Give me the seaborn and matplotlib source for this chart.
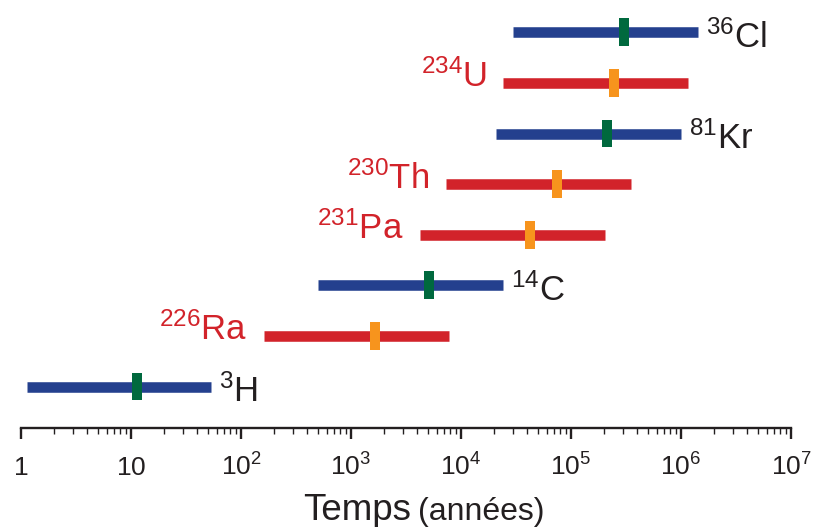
import numpy as np
import pandas as pd
import matplotlib
matplotlib.use("Agg")
import matplotlib.pyplot as plt
import seaborn as sns
from matplotlib.ticker import FixedLocator, LogLocator, NullFormatter

# isotopes, top to bottom
masses = ["36", "234", "81", "230", "231", "14", "226", "3"]
symbols = ["Cl", "U", "Kr", "Th", "Pa", "C", "Ra", "H"]
family = ["gas", "series", "gas", "series", "series", "gas", "series", "gas"]
# dating range (years) and half-life marker
t_min = [2.99e4, 2.43e4, 2.08e4, 7.3e3, 4.24e3, 5.05e2, 1.63e2, 1.13]
t_max = [1.42e6, 1.15e6, 9.9e5, 3.5e5, 2.04e5, 2.39e4, 7.8e3, 53.4]
t_half = [3.03e5, 2.46e5, 2.12e5, 7.46e4, 4.24e4, 5.12e3, 1.65e3, 11.4]

tick_vals = [1, 10, 1e2, 1e3, 1e4, 1e5, 1e6, 1e7]
tick_labels = ["$1$", "$10$", "$10^{2}$", "$10^{3}$", "$10^{4}$",
               "$10^{5}$", "$10^{6}$", "$10^{7}$"]

BLUE = "#24408e"
RED = "#d2232a"
GREEN = "#00693e"
ORANGE = "#f7941d"
INK = "#231f20"

sns.set_style("white")
plt.rcParams["font.family"] = ["Liberation Sans", "DejaVu Sans"]
plt.rcParams["mathtext.default"] = "regular"
plt.rcParams["lines.solid_capstyle"] = "butt"

ypos = np.arange(len(symbols))
labels = [m + s for m, s in zip(masses, symbols)]

ranges = pd.DataFrame({
    "isotope": labels * 2,
    "time": t_min + t_max,
    "y": list(ypos) * 2,
    "family": family * 2,
})
halves = pd.DataFrame({"isotope": labels, "time": t_half, "y": ypos, "family": family})

fig = plt.figure(figsize=(8.16, 5.27), dpi=100)
ax = fig.add_axes([21 / 816, 99 / 527, 770 / 816, 428 / 527])
ax.set_xscale("log")

sns.lineplot(data=ranges, x="time", y="y", units="isotope", estimator=None,
             hue="family", palette={"gas": BLUE, "series": RED},
             linewidth=7.6, sort=False, legend=False, ax=ax)

# half-life marker: tall thin rectangle
rect = [(-0.18, -0.5), (0.18, -0.5), (0.18, 0.5), (-0.18, 0.5)]
sns.scatterplot(data=halves, x="time", y="y", hue="family",
                palette={"gas": GREEN, "series": ORANGE},
                marker=rect, s=400, linewidth=0, legend=False, zorder=3, ax=ax)

for i in range(len(symbols)):
    txt = f"$^{{{masses[i]}}}${symbols[i]}"
    if family[i] == "gas":
        ax.annotate(txt, xy=(t_max[i], ypos[i]), xytext=(6, -11),
                    textcoords="offset points", ha="left", va="baseline",
                    fontsize=25, color=INK)
    else:
        ax.annotate(txt, xy=(t_min[i], ypos[i]), xytext=(-12, -3),
                    textcoords="offset points", ha="right", va="baseline",
                    fontsize=25, color=RED)

ax.set_xlim(1, 1e7)
ax.set_ylim(7.82, -0.64)
ax.set_xlabel("")
ax.set_ylabel("")
ax.set_yticks([])

ax.xaxis.set_major_locator(FixedLocator(tick_vals))
ax.set_xticks(tick_vals, labels=tick_labels, verticalalignment="baseline")
ax.xaxis.set_minor_locator(LogLocator(base=10, subs=np.arange(2, 10), numticks=20))
ax.xaxis.set_minor_formatter(NullFormatter())
ax.tick_params(axis="x", which="major", direction="out", length=8, width=1.7,
               color=INK, labelsize=19, labelcolor=INK, pad=26, bottom=True)
ax.tick_params(axis="x", which="minor", direction="out", length=4.5, width=1.0,
               color=INK, bottom=True)

for side in ["top", "right", "left"]:
    ax.spines[side].set_visible(False)
ax.spines["bottom"].set_linewidth(1.7)
ax.spines["bottom"].set_color(INK)

fig.text(411 / 816, 7 / 527, "Temps", ha="right", va="baseline",
         fontsize=26.5, color=INK)
fig.text(418 / 816, 7 / 527, "(années)", ha="left", va="baseline",
         fontsize=23, color=INK)

fig.savefig("out.png", dpi=100)
